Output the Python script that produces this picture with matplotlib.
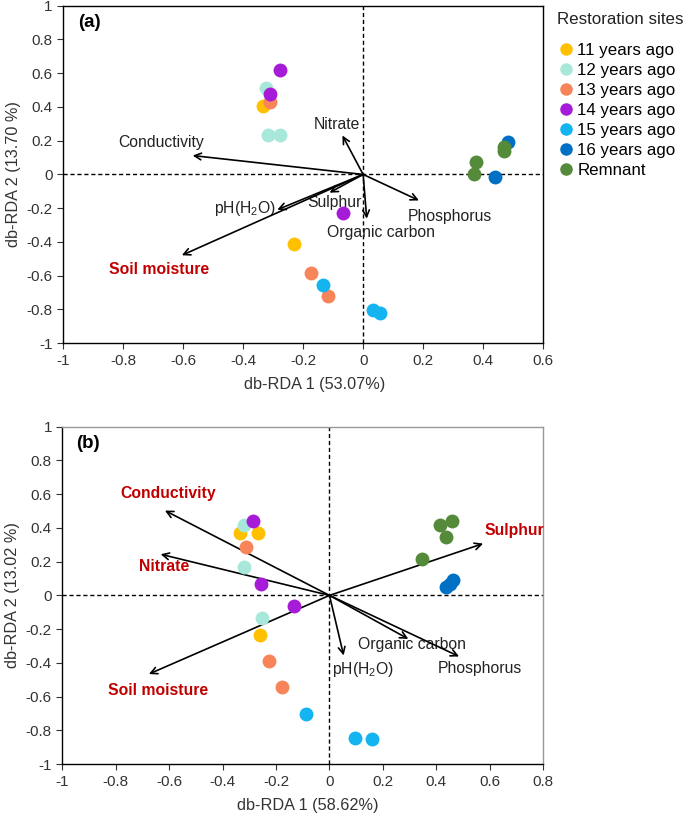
import matplotlib
matplotlib.use("Agg")
import matplotlib.pyplot as plt
from matplotlib.lines import Line2D

plt.rcParams['font.family'] = ['Liberation Sans', 'DejaVu Sans']
plt.rcParams['mathtext.fontset'] = 'custom'
plt.rcParams['mathtext.rm'] = 'Liberation Sans'
plt.rcParams['axes.unicode_minus'] = False

sites = ["11 years ago", "12 years ago", "13 years ago", "14 years ago",
         "15 years ago", "16 years ago", "Remnant"]
site_colors = ["#FFC000", "#A8E8DA", "#F8845A", "#A61BD8",
               "#13B4F0", "#0070C4", "#548A3A"]

# panel (a) site scores
a_x = [[-0.335, -0.230],
       [-0.322, -0.317, -0.277],
       [-0.309, -0.173, -0.116],
       [-0.277, -0.311, -0.066],
       [-0.134, 0.032, 0.056],
       [0.483, 0.440],
       [0.375, 0.370, 0.471, 0.469]]
a_y = [[0.408, -0.410],
       [0.512, 0.233, 0.231],
       [0.432, -0.583, -0.721],
       [0.619, 0.477, -0.229],
       [-0.654, -0.806, -0.820],
       [0.195, -0.018],
       [0.073, 0.004, 0.162, 0.138]]

# panel (a) environmental vectors
a_vars = ["Conductivity", "Nitrate", "pH(H$_\\mathregular{2}$O)", "Sulphur",
          "Organic carbon", "Phosphorus", "Soil moisture"]
a_vx = [-0.568, -0.069, -0.286, -0.112, 0.012, 0.186, -0.604]
a_vy = [0.112, 0.231, -0.209, -0.108, -0.262, -0.154, -0.479]
a_lx = [-0.672, -0.086, -0.393, -0.097, 0.059, 0.290, -0.680]
a_ly = [0.191, 0.298, -0.203, -0.166, -0.347, -0.252, -0.564]
a_sig = [False, False, False, False, False, False, True]

# panel (b) site scores
b_x = [[-0.336, -0.267, -0.260],
       [-0.319, -0.319, -0.251],
       [-0.311, -0.227, -0.176],
       [-0.288, -0.255, -0.133],
       [-0.087, 0.095, 0.161],
       [0.437, 0.451, 0.461],
       [0.415, 0.459, 0.437, 0.348]]
b_y = [[0.370, 0.370, -0.234],
       [0.419, 0.169, -0.136],
       [0.285, -0.389, -0.545],
       [0.439, 0.069, -0.065],
       [-0.702, -0.848, -0.850],
       [0.051, 0.070, 0.090],
       [0.417, 0.439, 0.344, 0.214]]

# panel (b) environmental vectors
b_vars = ["Conductivity", "Nitrate", "Soil moisture", "Sulphur",
          "pH(H$_\\mathregular{2}$O)", "Organic carbon", "Phosphorus"]
b_vx = [-0.616, -0.632, -0.676, 0.575, 0.053, 0.295, 0.485]
b_vy = [0.503, 0.244, -0.466, 0.307, -0.356, -0.258, -0.362]
b_lx = [-0.603, -0.619, -0.643, 0.691, 0.124, 0.307, 0.564]
b_ly = [0.606, 0.169, -0.562, 0.385, -0.440, -0.293, -0.436]
b_sig = [True, True, True, True, False, False, False]


def draw_panel(ax, xs, ys, vx, vy, lx, ly, names, sig, xmax, tag, xlabel, ylabel, xlab_pos):
    ax.axhline(0, color="black", ls="--", lw=1, dashes=(3, 2))
    ax.axvline(0, color="black", ls="--", lw=1, dashes=(3, 2))
    for i in range(len(vx)):
        ax.annotate("", xy=(vx[i], vy[i]), xytext=(0, 0),
                    arrowprops=dict(arrowstyle="->", color="black", lw=1.2,
                                    shrinkA=0, shrinkB=0, mutation_scale=12))
        if sig[i]:
            ax.text(lx[i], ly[i], names[i], color="#C00000", fontweight="bold",
                    fontsize=11.3, ha="center", va="center")
        else:
            ax.text(lx[i], ly[i], names[i], color="#222222",
                    fontsize=11.3, ha="center", va="center")
    for i in range(len(sites)):
        ax.scatter(xs[i], ys[i], s=100, color=site_colors[i], zorder=3, linewidths=0)
    ax.set_xlim(-1, xmax)
    ax.set_ylim(-1, 1)
    ax.set_xticks([round(-1 + 0.2 * k, 1) for k in range(int(round((xmax + 1) / 0.2)) + 1)])
    ax.set_yticks([round(-1 + 0.2 * k, 1) for k in range(11)])
    ax.set_xticklabels(["%g" % t for t in ax.get_xticks()])
    ax.set_yticklabels(["%g" % t for t in ax.get_yticks()])
    ax.tick_params(direction="out", length=4, labelsize=11, colors="#333333")
    ax.set_xlabel(xlabel, fontsize=11.7, color="#333333", va="center")
    ax.set_ylabel(ylabel, fontsize=11.7, color="#333333")
    ax.xaxis.set_label_coords(xlab_pos, -0.122)
    ax.text(-0.95, 0.9, tag, fontsize=13.5, fontweight="bold", va="center")
    for s in ax.spines.values():
        s.set_linewidth(1)


fig = plt.figure(figsize=(6.85, 8.19), dpi=100)
ax1 = fig.add_axes([0.092, 0.581, 0.701, 0.412])
ax2 = fig.add_axes([0.091, 0.067, 0.702, 0.412])

draw_panel(ax1, a_x, a_y, a_vx, a_vy, a_lx, a_ly, a_vars, a_sig, 0.6, "(a)",
           "db-RDA 1 (53.07%)", "db-RDA 2 (13.70 %)", 0.525)
draw_panel(ax2, b_x, b_y, b_vx, b_vy, b_lx, b_ly, b_vars, b_sig, 0.8, "(b)",
           "db-RDA 1 (58.62%)", "db-RDA 2 (13.02 %)", 0.51)
ax2.spines["top"].set_color("#999999")
ax2.spines["right"].set_color("#999999")

fig.text(557 / 685, 1 - 19 / 819, "Restoration sites", fontsize=12.2,
         color="#222222", ha="left", va="center")
handles = [Line2D([], [], marker="o", ls="", color=c, markersize=8) for c in site_colors]
leg = fig.legend(handles, sites, loc="upper left",
                 bbox_to_anchor=(0.812, 0.948), frameon=False, fontsize=12.2,
                 handletextpad=0.15, labelspacing=0.3,
                 handlelength=1.1, borderpad=0, borderaxespad=0)

fig.savefig("out.png", dpi=100)
